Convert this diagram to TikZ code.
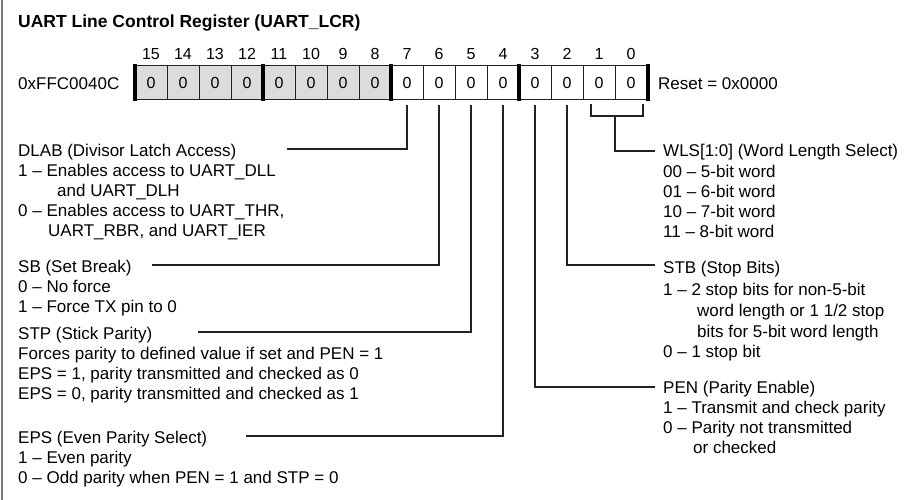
\documentclass[tikz,border=0pt]{standalone}
\usepackage{fontspec}
\setmainfont{Liberation Sans}
\definecolor{ln}{HTML}{222222}
\definecolor{cellgray}{HTML}{DCDCDC}
\definecolor{framegray}{HTML}{7A7A7A}
\begin{document}
\begin{tikzpicture}[x=1pt,y=-1pt,
  txt/.style={anchor=base west,inner sep=0pt,font=\fontsize{17}{20}\selectfont},
  ttl/.style={anchor=base west,inner sep=0pt,font=\bfseries\fontsize{17.5}{20}\selectfont},
  cell/.style={draw=ln,line width=1pt,minimum width=32pt,minimum height=34pt,inner sep=0pt,font=\fontsize{16}{18}\selectfont},
  hi/.style={cell,fill=cellgray},
  lo/.style={cell,fill=white},
  bitno/.style={anchor=base,inner sep=0pt,font=\fontsize{16}{18}\selectfont},
  sepbar/.style={line width=4pt,draw=black},
  lead/.style={draw=ln,line width=1.1pt}]
\useasboundingbox (0,0) rectangle (921,500);
\draw[framegray,line width=2.5pt] (2,0) -- (2,500);

% register cells
\foreach \i in {15,...,8} {
  \node[hi] (b\i) at ({151+(15-\i)*32},83) {0};
  \node[bitno] (n\i) at ({151+(15-\i)*32},60) {\i};
}
\foreach \i in {7,...,0} {
  \node[lo] (b\i) at ({151+(15-\i)*32},83) {0};
  \node[bitno] (n\i) at ({151+(15-\i)*32},60) {\i};
}
\foreach \i in {15,11,7,3} {
  \draw[sepbar] ([yshift=1pt]b\i.north west) -- ([yshift=-1pt]b\i.south west);
}
\draw[sepbar] ([yshift=1pt]b0.north east) -- ([yshift=-1pt]b0.south east);

% titles
\node[ttl] (title) at (18,28) {UART Line Control Register (UART\_LCR)};
\node[txt] (addr) at (18,90) {0xFFC0040C};
\node[txt] (reset) at (658,90) {Reset = 0x0000};

% left descriptions
\node[txt] (dlab) at (18,157) {DLAB (Divisor Latch Access)};
\node[txt] (dlab1) at (18,176) {1 – Enables access to UART\_DLL};
\node[txt] (dlab2) at (57,196) {and UART\_DLH};
\node[txt] (dlab3) at (18,216) {0 – Enables access to UART\_THR,};
\node[txt] (dlab4) at (48,236) {UART\_RBR, and UART\_IER};

\node[txt] (sb) at (18,272) {SB (Set Break)};
\node[txt] (sb1) at (18,292) {0 – No force};
\node[txt] (sb2) at (18,312) {1 – Force TX pin to 0};

\node[txt] (stp) at (18,339) {STP (Stick Parity)};
\node[txt] (stp1) at (18,359) {Forces parity to defined value if set and PEN = 1};
\node[txt] (stp2) at (18,379) {EPS = 1, parity transmitted and checked as 0};
\node[txt] (stp3) at (18,399) {EPS = 0, parity transmitted and checked as 1};

\node[txt] (eps) at (18,443) {EPS (Even Parity Select)};
\node[txt] (eps1) at (18,463) {1 – Even parity};
\node[txt] (eps2) at (18,483) {0 – Odd parity when PEN = 1 and STP = 0};

% right descriptions
\node[txt] (wls) at (663,157) {WLS[1:0] (Word Length Select)};
\node[txt] (wls1) at (663,177) {00 – 5-bit word};
\node[txt] (wls2) at (663,197) {01 – 6-bit word};
\node[txt] (wls3) at (663,217) {10 – 7-bit word};
\node[txt] (wls4) at (663,237) {11 – 8-bit word};

\node[txt] (stb) at (663,273) {STB (Stop Bits)};
\node[txt] (stb1) at (663,295) {1 – 2 stop bits for non-5-bit};
\node[txt] (stb2) at (697,316) {word length or 1 1/2 stop};
\node[txt] (stb3) at (697,337) {bits for 5-bit word length};
\node[txt] (stb4) at (663,357) {0 – 1 stop bit};

\node[txt] (pen) at (663,393) {PEN (Parity Enable)};
\node[txt] (pen1) at (663,413) {1 – Transmit and check parity};
\node[txt] (pen2) at (663,433) {0 – Parity not transmitted};
\node[txt] (pen3) at (693,453) {or checked};

% leader ends
\coordinate (dlabL) at (287,149);
\coordinate (sbL) at (152,265);
\coordinate (stpL) at (198,332);
\coordinate (epsL) at (246,436);
\coordinate (wlsL) at (655,151);
\coordinate (stbL) at (655,265);
\coordinate (penL) at (655,387);
\coordinate (bkL) at (591,116);
\coordinate (bkR) at (643,116);
\coordinate (bkM) at (615,116);

\draw[lead] ([yshift=-5pt]b7.south) |- (dlabL);
\draw[lead] ([yshift=-5pt]b6.south) |- (sbL);
\draw[lead] ([yshift=-5pt]b5.south) |- (stpL);
\draw[lead] ([yshift=-5pt]b4.south) |- (epsL);
\draw[lead] ([yshift=-5pt]b3.south) |- (penL);
\draw[lead] ([yshift=-5pt]b2.south) |- (stbL);
\draw[lead] ([xshift=-8pt,yshift=-4pt]b1.south) |- (bkL) -- (bkR) -- ([xshift=12pt,yshift=-4pt]b0.south);
\draw[lead] (bkM) |- (wlsL);
\end{tikzpicture}
\end{document}
